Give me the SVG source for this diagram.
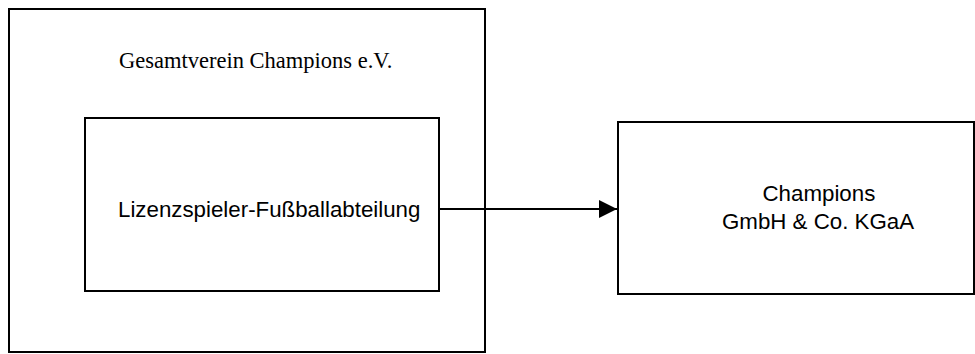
<svg xmlns="http://www.w3.org/2000/svg" width="975" height="354" viewBox="0 0 975 354">
  <style>
    .box { fill: none; stroke: #000; stroke-width: 2; }
    .serif { font-family: "Liberation Serif", "Times New Roman", serif; font-size: 22.5px; fill: #000; }
    .sans { font-family: "Liberation Sans", Arial, sans-serif; font-size: 22.3px; fill: #000; }
    .conn { stroke: #000; stroke-width: 2; fill: none; }
  </style>
  <defs>
    <!-- solid triangular arrowhead, tip placed at the line end -->
    <marker id="arrow" markerWidth="18" markerHeight="18" refX="18" refY="9" orient="auto" markerUnits="userSpaceOnUse" viewBox="0 0 18 18">
      <polygon points="0,0 18,9 0,18" fill="#000"/>
    </marker>
  </defs>

  <rect width="975" height="354" fill="#fff"/>

  <!-- umbrella association -->
  <g id="gesamtverein">
    <rect class="box" x="9" y="9" width="476" height="343"/>
    <text class="serif" x="119" y="68">Gesamtverein Champions e.V.</text>
  </g>

  <!-- licensed players department inside the association -->
  <g id="lizenzspieler">
    <rect class="box" x="85" y="118" width="354" height="173"/>
    <text class="sans" x="118" y="217">Lizenzspieler-Fußballabteilung</text>
  </g>

  <!-- spun-off company -->
  <g id="kgaa">
    <rect class="box" x="618" y="122" width="356" height="172"/>
    <text class="sans" x="762.5" y="201">Champions</text>
    <text class="sans" x="722" y="228.5">GmbH &amp; Co. KGaA</text>
  </g>

  <g id="connectors">
    <path class="conn" d="M440,209 H617" marker-end="url(#arrow)"/>
  </g>
</svg>
